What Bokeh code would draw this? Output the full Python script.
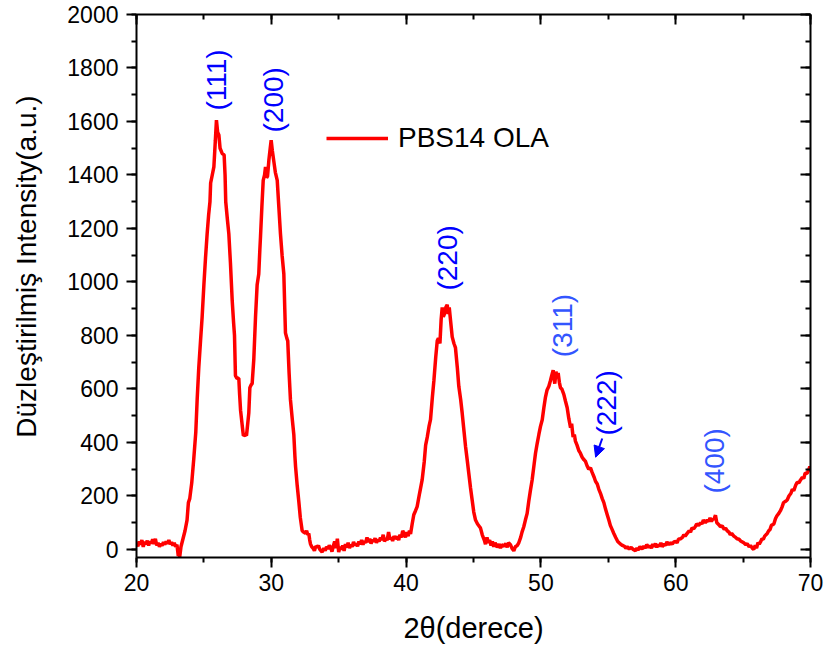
from math import pi
from bokeh.plotting import figure
from bokeh.models import (LinearAxis, SingleIntervalTicker, Range1d, Legend, LegendItem,
                          Arrow, NormalHead, ColumnDataSource, CustomJSTickFormatter)
from bokeh.core.properties import value
from bokeh.embed import file_html
from bokeh.resources import INLINE

# ---------------- data ----------------
theta_1 = [20.0,20.1,20.2,20.3,20.4,20.5,20.6,20.7,20.8,20.9,21.0,21.1,21.2,21.3,21.4,21.5,21.6,21.7,21.8,21.9,
           22.0,22.1,22.2,22.3,22.4,22.5,22.6,22.7,22.8,22.9,23.0,23.1,23.15,23.2,23.3]
counts_1 = [25,12,30,18,35,10,28,20,33,15,30,22,38,20,40,15,25,10,22,14,
            28,18,30,22,35,20,27,15,25,10,18,-25,5,-30,10]

theta_2 = [23.45,23.6,23.75,23.85,23.95,24.1,24.25,24.4,24.5,24.62,24.75,24.87,25.0,25.12,25.24,25.35,25.45,25.5,25.62,25.74,
           25.85,25.93,26.02,26.11,26.2,26.36,26.5,26.57,26.62,26.75,26.85,26.97,27.1,27.2,27.27,27.34,27.45,27.59,27.65,27.72,
           27.85,27.93,28.05,28.16,28.25,28.33,28.41,28.5,28.58,28.7,28.83,28.95,29.07,29.15,29.2,29.3,29.4,29.5,29.57,29.65,
           29.72,29.82,29.92,29.99,30.08,30.19,30.3,30.44,30.56,30.68,30.8,30.93,31.0,31.05,31.15,31.22,31.32,31.42,31.55,31.67,
           31.75,31.8,31.92,32.04,32.15,32.29,32.4,32.54,32.62,32.7,32.78,32.85,32.91]
counts_2 = [40,70,110,175,190,250,340,440,560,680,780,870,990,1090,1180,1250,1300,1370,1400,1430,
            1530,1605,1560,1550,1500,1480,1475,1400,1300,1230,1180,1070,930,850,800,650,640,640,580,520,
            460,425,430,426,470,510,605,615,620,710,870,990,1030,1120,1170,1280,1380,1400,1430,1390,
            1395,1455,1500,1530,1490,1450,1410,1380,1280,1180,1100,1030,900,810,790,780,660,560,490,430,
            350,310,240,180,120,70,65,60,70,55,60,35,20]

theta_3 = [33.0,33.1,33.2,33.3,33.41,33.5,33.6,33.77,33.9,
           34.0,34.1,34.2,34.3,34.4,34.5,34.6,34.7,34.8,34.9,
           35.0,35.1,35.2,35.3,35.4,35.5,35.6,35.7,35.8,35.9,
           36.0,36.1,36.2,36.3,36.4,36.5,36.6,36.7,36.8,36.9,
           37.0,37.1,37.2,37.3,37.4,37.5,37.6,37.7,37.8,37.9,
           38.0,38.1,38.2,38.3,38.4,38.5,38.6,38.7,38.8,38.9,
           39.0,39.1,39.2,39.34,39.45,39.55,39.65,39.75,39.83,39.95,40.05,40.15,40.25,40.33]
counts_3 = [10,5,-5,12,8,15,0,-10,5,
            -5,10,2,15,8,-8,12,30,5,40,
            -10,10,0,15,-5,20,8,25,5,18,
            10,28,15,22,12,30,20,35,18,30,
            25,45,28,40,22,35,30,42,25,38,
            30,45,35,55,30,42,35,65,38,45,
            32,50,40,48,35,55,45,70,60,45,65,50,70,58]

theta_4 = [40.45,40.57,40.7,40.82,41.0,41.19,41.35,41.45,41.57,41.7,41.81,41.95,42.06,42.2,42.31,42.4,42.51,42.6,42.68,42.76,
           42.84,42.95,43.05,43.12,43.2,43.25,43.35,43.42,43.55,43.66,43.8,43.91,44.05,44.16,44.3,44.41,44.52,44.65,44.78,44.9,
           45.02,45.15,45.3,45.45,45.52,45.65,45.8,45.89,46.0,46.1,46.2,46.3,46.4,46.5,46.6,46.76,46.9,47.0,47.1,47.25,
           47.4,47.5,47.6,47.74,47.85,47.99,48.1,48.25,48.36]
counts_4 = [95,130,145,160,210,260,330,390,420,460,485,570,630,720,780,790,770,860,905,870,
            880,905,915,880,905,880,830,795,770,755,680,610,560,510,440,385,340,285,230,185,
            140,110,95,85,80,55,35,20,45,25,35,15,30,10,25,8,20,5,18,12,
            22,8,25,18,5,-5,10,15,25]

theta_5 = [48.5,48.6,48.73,48.85,48.98,49.1,49.22,49.35,49.5,49.6,49.72,49.85,49.97,50.1,50.22,50.34,50.45,50.59,50.7,50.8,
           50.91,50.97,51.03,51.12,51.2,51.28,51.37,51.45,51.55,51.7,51.82,51.95,52.07,52.2,52.28,52.39,52.48,52.56,52.68,52.81,
           52.93,53.06,53.2,53.3,53.43,53.55,53.68,53.8,53.95,54.05,54.18,54.3,54.42,54.55,54.67,54.8,54.92,55.04,55.15,55.28,
           55.41,55.55,55.7,55.8,55.91,56.05,56.2,56.3,56.4]
counts_5 = [45,65,85,110,135,180,220,260,320,360,395,430,460,485,530,570,595,610,630,650,
            670,640,620,665,640,660,625,605,600,580,555,530,490,455,470,420,430,405,390,370,
            360,345,335,330,312,300,305,288,270,255,245,225,210,190,175,150,130,110,90,75,
            60,45,30,25,20,15,12,5,10]

theta_6 = [56.55,56.7,56.85,57.02,57.1,57.2,57.35,57.5,57.63,57.75,57.85,58.0,58.1,58.2,58.3,58.38,58.5,58.6,58.7,58.8,
           58.9,59.0,59.12,59.25,59.35,59.5,59.6,59.75,59.86,60.0,60.1,60.2,60.36,60.5,60.6,60.7,60.85,61.0,61.1,61.2,
           61.34,61.45,61.55,61.7,61.84,61.95,62.05,62.2,62.34,62.45,62.55,62.65,62.75,62.83,62.95,63.05,63.15,63.25,63.32,63.45,
           63.6,63.7,63.82,63.95,64.05,64.15,64.31,64.45,64.55,64.7,64.81,64.95,65.05,65.2,65.3,65.45,65.55,65.68,65.79,65.9,
           66.0,66.1,66.2,66.29,66.4,66.5,66.6,66.79,66.9,67.0,67.1,67.28,67.4,67.5,67.65,67.77,67.9,68.0,68.15,68.27,
           68.4,68.55,68.65,68.76,68.9,69.0,69.15,69.26,69.4,69.5,69.6,69.75,69.85,69.95,70.0]
counts_6 = [2,8,0,-5,5,-2,10,2,12,5,18,8,15,5,20,10,22,8,18,12,
            25,10,20,15,28,18,25,20,28,30,25,38,40,45,55,50,60,70,65,80,
            78,85,95,90,100,95,110,100,110,105,118,105,115,112,128,100,95,90,85,88,
            75,80,70,65,55,60,50,45,40,38,32,28,25,18,22,10,15,5,0,15,
            5,25,20,28,40,38,50,60,70,75,90,95,115,125,135,145,160,175,180,185,
            200,210,225,220,240,250,250,260,270,265,285,285,295,310,300]

series_name = "PBS14 OLA"

# peak labels (Miller indices) and where they sit
peak_labels = ["(111)", "(200)", "(220)", "(311)", "(222)", "(400)"]
peak_x = [25.93, 30.2, 43.1, 51.57, 54.83, 62.9]
peak_y = [1641, 1559, 968, 719, 426, 209]
peak_colors = ["#0000ff", "#0000ff", "#0000ff", "#3355ff", "#0000ff", "#3355ff"]

arrow_start = (54.55, 415)
arrow_end = (54.06, 345)

x_ticks_major = 10
y_ticks_major = 200

# ---------------- build ----------------
theta = theta_1 + theta_2 + theta_3 + theta_4 + theta_5 + theta_6
counts = counts_1 + counts_2 + counts_3 + counts_4 + counts_5 + counts_6
assert len(theta) == len(counts)

FONT = "Liberation Sans"

p = figure(width=829, height=649, output_backend="svg", toolbar_location=None,
           x_range=Range1d(20, 70), y_range=Range1d(-30, 2000),
           min_border_left=136, min_border_right=19, min_border_top=14, min_border_bottom=92)
p.grid.visible = False
p.outline_line_color = None
p.background_fill_color = "white"
p.border_fill_color = "white"

src = ColumnDataSource(dict(x=theta, y=counts))
line = p.line("x", "y", source=src, line_color="#ff0000", line_width=3.5)

def style_axis(ax):
    ax.axis_line_color = "black"
    ax.axis_line_width = 2
    ax.major_tick_line_color = "black"
    ax.major_tick_line_width = 2
    ax.minor_tick_line_color = "black"
    ax.minor_tick_line_width = 2
    ax.major_label_text_font = FONT
    ax.major_label_text_font_size = "23px"
    ax.major_label_text_color = "black"
    ax.axis_label_text_font = FONT
    ax.axis_label_text_font_size = "28px"
    ax.axis_label_text_font_style = "normal"
    ax.axis_label_text_color = "black"

xa = p.xaxis[0]
xa.ticker = SingleIntervalTicker(interval=x_ticks_major, num_minor_ticks=2)
style_axis(xa)
xa.major_tick_out = 10
xa.major_tick_in = 0
xa.minor_tick_out = 5
xa.minor_tick_in = 0
xa.major_label_standoff = 6
xa.axis_label = "2θ(derece)"
xa.axis_label_text_font_size = "29px"
xa.axis_label_standoff = 18

ya = p.yaxis[0]
ya.ticker = SingleIntervalTicker(interval=y_ticks_major, num_minor_ticks=2)
style_axis(ya)
ya.major_tick_out = 10
ya.major_tick_in = 0
ya.minor_tick_out = 5
ya.minor_tick_in = 0
ya.major_label_standoff = 8
ya.axis_label = "\u00a0" * 5 + "Düzleştirilmiş Intensity(a.u.)"
ya.axis_label_standoff = 22

blank = CustomJSTickFormatter(code="return ''")
top = LinearAxis(ticker=SingleIntervalTicker(interval=x_ticks_major, num_minor_ticks=2), formatter=blank)
style_axis(top)
top.major_tick_in = 10
top.major_tick_out = 0
top.minor_tick_in = 5
top.minor_tick_out = 0
top.major_label_standoff = 0
p.add_layout(top, "above")

right = LinearAxis(ticker=SingleIntervalTicker(interval=y_ticks_major, num_minor_ticks=2), formatter=blank)
style_axis(right)
right.major_tick_in = 10
right.major_tick_out = 0
right.minor_tick_in = 5
right.minor_tick_out = 0
right.major_label_standoff = 0
p.add_layout(right, "right")

p.text(x=peak_x, y=peak_y, text=peak_labels, angle=pi / 2, text_align="left",
       text_baseline="middle", text_color=peak_colors, text_font=value(FONT),
       text_font_size="28px")

p.add_layout(Arrow(end=NormalHead(size=11, fill_color="#0000ff", line_color="#0000ff"),
                   x_start=arrow_start[0], y_start=arrow_start[1],
                   x_end=arrow_end[0], y_end=arrow_end[1],
                   line_color="#0000ff", line_width=2))

legend = Legend(items=[LegendItem(label=series_name, renderers=[line])],
                location=(190, 403), border_line_color=None, background_fill_alpha=0,
                label_text_font=FONT, label_text_font_size="28px", label_text_color="black",
                glyph_width=62, glyph_height=20, padding=0, margin=0, label_standoff=10)
p.add_layout(legend)

open("out.html", "w").write(file_html(p, INLINE))
